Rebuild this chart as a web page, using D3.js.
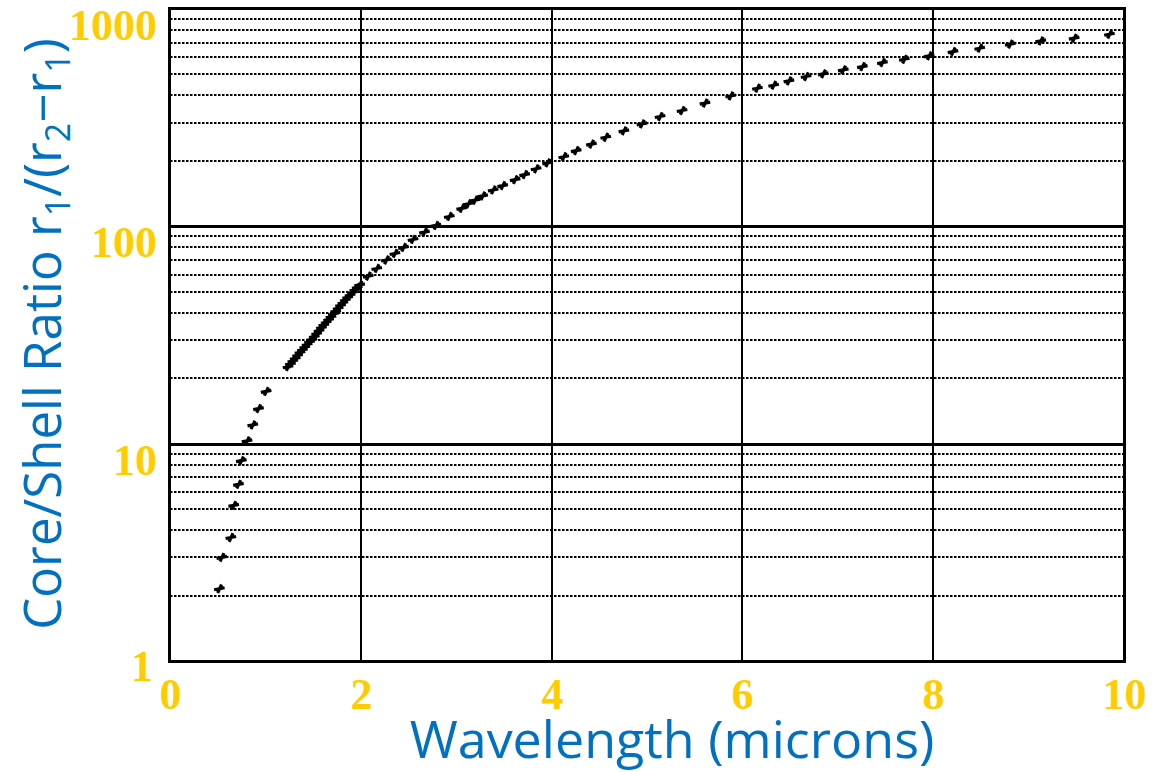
<!DOCTYPE html>
<html><head><meta charset="utf-8">
<script src="https://cdn.jsdelivr.net/npm/d3@7"></script>
<style>html,body{margin:0;padding:0;background:#fff;}svg{display:block;}</style>
</head><body>
<svg id="chart" width="1168" height="772"></svg>
<script>
// ---- data ----
const wavelength = [
  0.52, 0.545, 0.64, 0.67, 0.72, 0.75, 0.81, 0.87, 0.93, 1.01,
  1.24, 1.265, 1.29, 1.315, 1.34, 1.365, 1.39, 1.415, 1.44, 1.465,
  1.49, 1.515, 1.54, 1.565, 1.59, 1.615, 1.64, 1.665, 1.69, 1.715,
  1.74, 1.765, 1.79, 1.815, 1.84, 1.865, 1.89, 1.915, 1.94, 1.965, 1.99,
  2.08, 2.17, 2.27, 2.36, 2.45, 2.55, 2.67, 2.79, 2.93, 3.06,
  3.13, 3.20, 3.28, 3.39, 3.49, 3.62, 3.72, 3.84, 3.96,
  4.13, 4.26, 4.42, 4.57, 4.76, 4.95, 5.14, 5.37, 5.61, 5.88,
  6.16, 6.33, 6.49, 6.67, 6.85, 7.06, 7.26, 7.47, 7.70, 7.96,
  8.21, 8.49, 8.81, 9.13, 9.48, 9.85
];
const ratio = [
  2.15, 3.0, 3.7, 5.2, 6.5, 8.35, 10.3, 12.2, 14.5, 17.4,
  22.6, 23.3, 24.0, 24.7, 25.5, 26.3, 27.0, 27.8, 28.6, 29.4,
  30.2, 31.1, 32.1, 33.1, 34.2, 35.2, 36.2, 37.2, 38.3, 39.5,
  40.7, 42.0, 43.3, 44.5, 45.8, 47.1, 48.3, 49.6, 51.0, 52.4, 53.8,
  59, 64, 70, 75, 80, 87, 94, 101, 111, 121,
  127, 132, 138, 147, 154, 164, 173, 184, 196,
  209, 223, 239, 257, 275, 296, 320, 341, 369, 398,
  432, 446, 467, 489, 503, 525, 543, 567, 587, 609,
  637, 660, 689, 713, 734, 765
];
const xTicks = [0, 2, 4, 6, 8, 10];
const yTicks = [1, 10, 100, 1000];
const yMinor = [2,3,4,5,6,7,8,9,20,30,40,50,60,70,80,90,200,300,400,500,600,700,800,900];
const xTitle = "Wavelength (microns)";

// ---- layout ----
const L = 170, R = 1124, T = 9, B = 661;
const gold = "#FFCC00", blue = "#0070C0";
const svg = d3.select("#chart");
const x = d3.scaleLinear().domain([0, 10]).range([L, R]).interpolate(d3.interpolateRound);
const y = d3.scaleLog().domain([1, 1000]).range([B, T]).interpolate(d3.interpolateRound);
const xm = d3.scaleLinear().domain([0, 10]).range([L, R]);
const ym = d3.scaleLog().domain([1, 1000]).range([B, T]);

// minor dotted horizontal grid
svg.append("g").attr("transform", `translate(${L},0)`)
  .call(d3.axisLeft(y).tickValues(yMinor).tickSize(-(R - L)).tickFormat("").offset(0))
  .call(g => g.select(".domain").remove())
  .call(g => g.selectAll("line").attr("stroke", "#000").attr("stroke-width", 2)
      .attr("stroke-dasharray", "2.5,1.5"));

// major solid horizontal grid
svg.append("g").attr("transform", `translate(${L},0)`)
  .call(d3.axisLeft(y).tickValues([10, 100]).tickSize(-(R - L)).tickFormat("").offset(0.5))
  .call(g => g.select(".domain").remove())
  .call(g => g.selectAll("line").attr("stroke", "#000").attr("stroke-width", 3));

// major vertical grid
svg.append("g").attr("transform", `translate(0,${B})`)
  .call(d3.axisBottom(x).tickValues([2, 4, 6, 8]).tickSize(-(B - T)).tickFormat("").offset(0))
  .call(g => g.select(".domain").remove())
  .call(g => g.selectAll("line").attr("stroke", "#000").attr("stroke-width", 2));

// frame
svg.append("rect").attr("x", L - 0.5).attr("y", T - 0.5).attr("width", R - L + 1).attr("height", B - T + 1)
  .attr("fill", "none").attr("stroke", "#000").attr("stroke-width", 3);

// tick labels
svg.append("g").attr("transform", `translate(0,${B})`)
  .call(d3.axisBottom(x).tickValues(xTicks).tickSize(0).tickPadding(17).tickFormat(d3.format("d")))
  .call(g => g.select(".domain").remove())
  .call(g => g.selectAll("text").attr("fill", gold)
      .style("font-family", "'Liberation Serif', 'DejaVu Serif', serif")
      .style("font-weight", "bold").style("font-size", "44px"));

svg.append("g").attr("transform", `translate(${L},0)`)
  .call(d3.axisLeft(y).tickValues(yTicks).tickSize(0).tickPadding(13).tickFormat(d3.format("d")))
  .call(g => g.select(".domain").remove())
  .call(g => g.selectAll("text").attr("fill", gold)
      .attr("dy", d => d === 1 ? "0.45em" : "0.7em")
      .attr("dx", d => d === 1 ? "-4" : "0")
      .style("font-family", "'Liberation Serif', 'DejaVu Serif', serif")
      .style("font-weight", "bold").style("font-size", "44px"));

// data markers
const pts = wavelength.map((w, i) => ({w, r: ratio[i]}));
const marker = "M-5.5,1L5,-1M-2,4.2L2,-4.2";
svg.append("g").selectAll("path").data(pts).join("path")
  .attr("transform", d => `translate(${xm(d.w)},${ym(d.r)})`)
  .attr("d", marker).attr("fill", "none").attr("stroke", "#000")
  .attr("stroke-width", 3.2).attr("stroke-linecap", "butt");

// axis titles
svg.append("text").attr("x", 672).attr("y", 758).attr("text-anchor", "middle")
  .attr("fill", blue).style("font-family", "'Open Sans', sans-serif").style("font-size", "52px")
  .text(xTitle);

const yt = svg.append("text").attr("transform", "translate(61,334) rotate(-90)")
  .attr("text-anchor", "middle").attr("fill", blue)
  .style("font-family", "'Open Sans', sans-serif").style("font-size", "51px");
const parts = [["Core/Shell Ratio r", false], ["1", true], ["/(r", false], ["2", true], ["\u2212r", false], ["1", true], [")", false]];
parts.forEach(([t, sub]) => {
  const s = yt.append("tspan").text(t);
  if (sub) s.attr("baseline-shift", "-9").style("font-size", "34px");
});
</script>
</body></html>
